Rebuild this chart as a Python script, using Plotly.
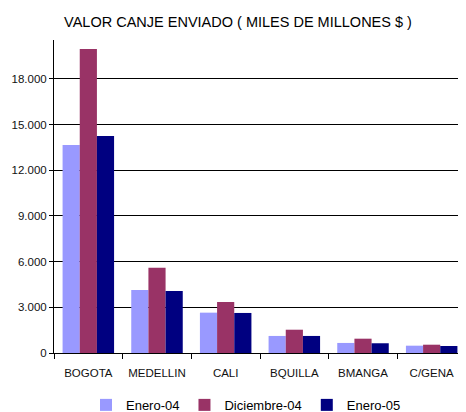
import plotly.graph_objects as go

ciudades = ["BOGOTA", "MEDELLIN", "CALI", "BQUILLA", "BMANGA", "C/GENA"]
enero_04 = [13660, 4140, 2650, 1120, 660, 480]
diciembre_04 = [19970, 5600, 3350, 1530, 940, 545]
enero_05 = [14250, 4070, 2630, 1120, 640, 460]

series = [
    ("Enero-04", enero_04, "#9999FF"),
    ("Diciembre-04", diciembre_04, "#993366"),
    ("Enero-05", enero_05, "#000080"),
]

font = "Liberation Sans, Arial, sans-serif"

# the page body adds an 8px margin, so the figure is a bit smaller than the window
fig = go.Figure()
for name, values, color in series:
    fig.add_trace(go.Bar(x=ciudades, y=values, name=name, marker_color=color, marker_line_width=0))

fig.update_layout(
    width=458,
    height=404,
    margin=dict(l=46, r=0, t=32, b=59, autoexpand=False),
    paper_bgcolor="white",
    plot_bgcolor="white",
    separators=",.",
    barmode="group",
    bargap=0.25,
    bargroupgap=0,
    font=dict(family=font, size=12, color="#111111"),
    title=dict(
        text="VALOR CANJE ENVIADO ( MILES DE MILLONES $ )",
        x=230 / 458, xanchor="center", xref="container",
        y=1 - 14 / 404, yanchor="middle", yref="container",
        font=dict(family=font, size=14.5, color="#000000"),
    ),
    legend=dict(
        orientation="h", x=0.466, xanchor="center", y=-0.118, yanchor="top",
        font=dict(family=font, size=13, color="#000000"),
        itemwidth=30,
    ),
)
fig.update_xaxes(
    showline=True, linecolor="black", linewidth=1,
    ticks="outside", tickson="boundaries", ticklen=5, tickcolor="black",
    tickangle=0, tickfont=dict(size=11.5), automargin=False,
    ticklabelstandoff=9,
)
fig.update_yaxes(
    range=[0, 20560], dtick=3000, tickformat=",d",
    showgrid=True, gridcolor="black", gridwidth=1,
    showline=True, linecolor="black", linewidth=1,
    ticks="outside", ticklen=4, tickcolor="black",
    zeroline=False, tickfont=dict(size=11.5), automargin=False,
)

fig.write_html("out.html")
